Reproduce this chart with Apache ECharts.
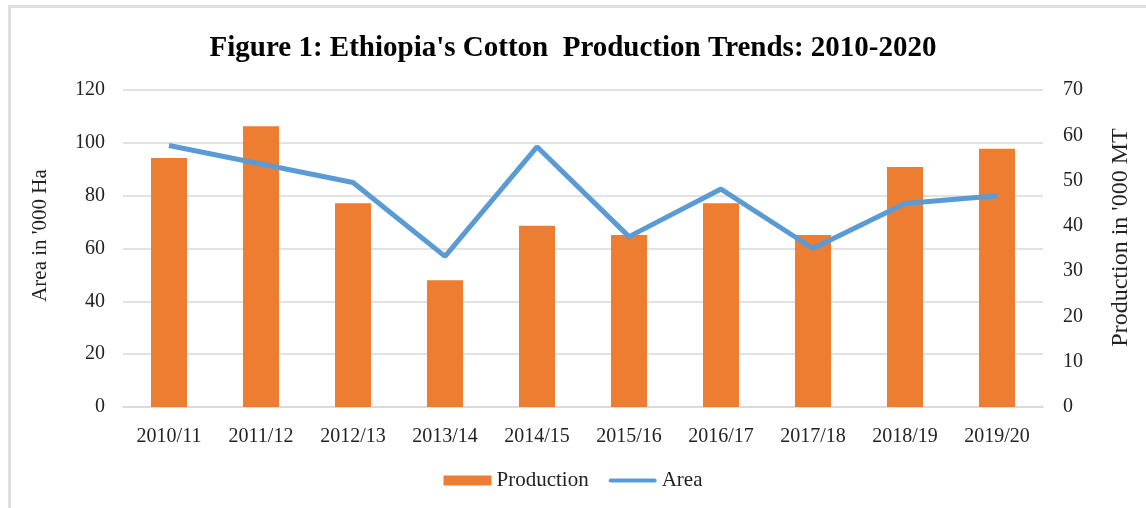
<!DOCTYPE html>
<html>
<head>
<meta charset="utf-8">
<script src="https://cdn.jsdelivr.net/npm/echarts@6/dist/echarts.min.js"></script>
<style>
    html, body {margin: 0; padding: 0; background: #fff;}
    #frame {position: absolute; left: 8px; top: 5px; width: 1200px; height: 600px;
        border-top: 3px solid #dedede; border-left: 3px solid #dedede;}
    #chart {position: absolute; left: 0; top: 0; width: 1146px; height: 508px;}
</style>
</head>
<body>
<div id="frame"></div>
<div id="chart"></div>
<script>
    var seasons = ['2010/11', '2011/12', '2012/13', '2013/14', '2014/15', '2015/16', '2016/17', '2017/18', '2018/19', '2019/20'];
    // '000 MT, right axis
    var production = [55, 62, 45, 28, 40, 38, 45, 38, 53, 57];
    // '000 Ha, left axis
    var area = [99, 92, 85, 57, 98.5, 64.5, 82.5, 60, 77, 80];

    var serif = 'Liberation Serif';
    // thick line icon for the Area legend entry (no dot)
    var lineIcon = 'path://M0,0M1,3h46a2,2 0 0 1 0,4h-46a2,2 0 0 1 0,-4zM48,10';

    var myChart = echarts.init(document.getElementById('chart'));
    myChart.setOption({
        animation: false,
        textStyle: {fontFamily: serif, color: '#222'},
        title: {
            text: "Figure 1: Ethiopia's Cotton  Production Trends: 2010-2020",
            left: 'center',
            top: 29,
            textStyle: {fontFamily: serif, fontWeight: 'bold', fontSize: 29, color: '#000'}
        },
        legend: {
            bottom: 12,
            left: 'center',
            itemWidth: 48,
            itemHeight: 10,
            itemGap: 20,
            data: [
                {name: 'Production', icon: 'rect'},
                {name: 'Area', icon: lineIcon}
            ],
            textStyle: {fontFamily: serif, fontSize: 21, color: '#222'}
        },
        grid: {
            left: 123,
            right: 103,
            top: 90,
            bottom: 101
        },
        xAxis: {
            type: 'category',
            data: seasons,
            axisTick: {show: false},
            axisLine: {lineStyle: {color: '#d9d9d9', width: 1.5}},
            axisLabel: {fontFamily: serif, fontSize: 20, color: '#222', margin: 20}
        },
        yAxis: [
            {
                type: 'value',
                min: 0,
                max: 120,
                interval: 20,
                name: "Area in '000 Ha",
                nameLocation: 'middle',
                nameGap: 72,
                nameTextStyle: {fontFamily: serif, fontSize: 21, color: '#222', padding: [0, 0, 0, 26]},
                axisLine: {show: false},
                axisTick: {show: false},
                axisLabel: {fontFamily: serif, fontSize: 20, color: '#222', margin: 18},
                splitLine: {lineStyle: {color: '#d9d9d9', width: 1.5}}
            },
            {
                type: 'value',
                min: 0,
                max: 70,
                interval: 10,
                name: "Production in '000 MT",
                nameLocation: 'middle',
                nameGap: 66,
                nameTextStyle: {fontFamily: serif, fontSize: 24, color: '#222', padding: [0, 0, 0, 22]},
                axisLine: {show: false},
                axisTick: {show: false},
                axisLabel: {fontFamily: serif, fontSize: 20, color: '#222', margin: 20},
                splitLine: {show: false}
            }
        ],
        series: [
            {
                name: 'Production',
                type: 'bar',
                yAxisIndex: 1,
                barWidth: 36,
                data: production,
                itemStyle: {color: '#ed7d31'}
            },
            {
                name: 'Area',
                type: 'line',
                yAxisIndex: 0,
                symbol: 'none',
                data: area,
                itemStyle: {color: '#5b9bd5'},
                lineStyle: {color: '#5b9bd5', width: 5}
            }
        ]
    });
</script>
</body>
</html>
